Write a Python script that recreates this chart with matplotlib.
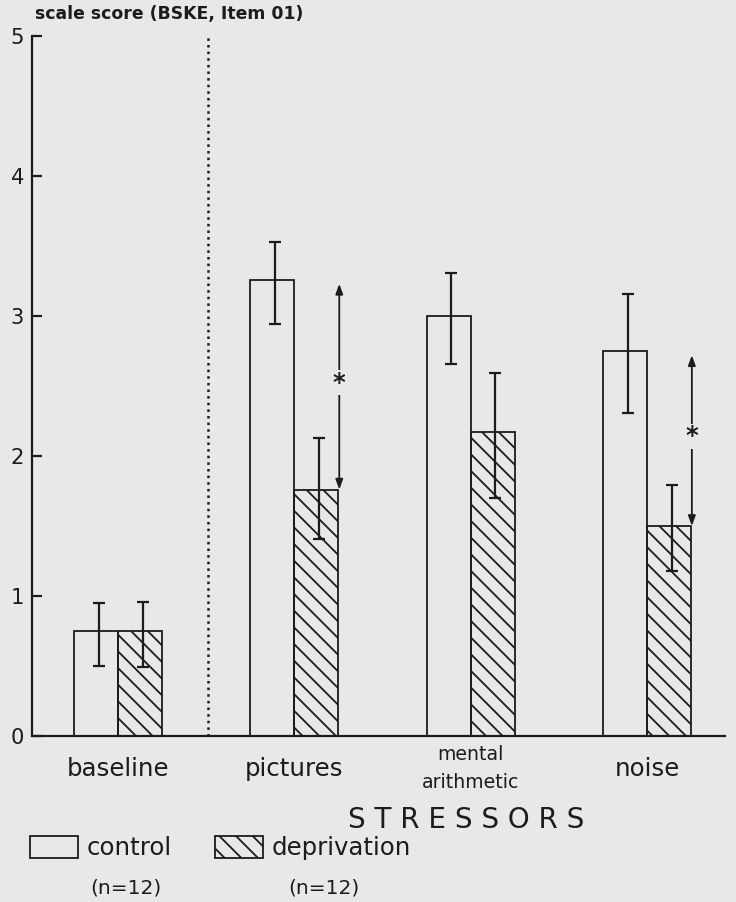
import matplotlib
matplotlib.use("Agg")
import matplotlib.pyplot as plt
from matplotlib.patches import Patch
import numpy as np

# values
stressors = ["baseline", "pictures", "mental\narithmetic", "noise"]
control_mean = [0.75, 3.26, 3.00, 2.75]
control_low = [0.50, 2.94, 2.66, 2.31]
control_high = [0.95, 3.53, 3.31, 3.16]
depriv_mean = [0.75, 1.76, 2.17, 1.50]
depriv_low = [0.49, 1.41, 1.70, 1.18]
depriv_high = [0.96, 2.13, 2.59, 1.79]
significant = ["pictures", "noise"]
y_ticks = [0, 1, 2, 3, 4, 5]

BG = "#e8e8e6"
INK = "#1c1c1c"


def main():
    plt.rcParams["font.family"] = ["DejaVu Sans"]
    plt.rcParams["hatch.linewidth"] = 1.3
    plt.rcParams["hatch.color"] = INK

    dpi = 100
    fig = plt.figure(figsize=(736 / dpi, 902 / dpi), dpi=dpi, facecolor=BG)
    ax = fig.add_axes([32 / 736, 1 - 736 / 902, 693 / 736, 700 / 902])
    ax.set_facecolor(BG)

    x = np.arange(len(stressors))
    w = 0.25
    shift = 0.015

    ax.bar(x - w / 2, control_mean, w, facecolor="none", edgecolor=INK,
           linewidth=1.3)
    ax.bar(x + w / 2, depriv_mean, w, facecolor="none", edgecolor=INK,
           linewidth=1.3, hatch="\\\\")

    c_err = [np.subtract(control_mean, control_low),
             np.subtract(control_high, control_mean)]
    d_err = [np.subtract(depriv_mean, depriv_low),
             np.subtract(depriv_high, depriv_mean)]
    ax.errorbar(x - w / 2 + shift, control_mean, yerr=c_err, fmt="none",
                ecolor=INK, elinewidth=1.6, capsize=4.4, capthick=1.6)
    ax.errorbar(x + w / 2 + shift, depriv_mean, yerr=d_err, fmt="none",
                ecolor=INK, elinewidth=1.6, capsize=4.4, capthick=1.6)

    # significance arrows between control and deprivation means
    for name in significant:
        i = stressors.index(name)
        xa = x[i] + w + 0.005
        top = control_mean[i] - 0.03
        bot = depriv_mean[i]
        ax.annotate("", xy=(xa, top), xytext=(xa, bot),
                    arrowprops=dict(arrowstyle="<|-|>,head_length=0.6,head_width=0.22",
                                    color=INK, lw=1.3, shrinkA=0, shrinkB=0))
        ax.text(xa, (top + bot) / 2 + 0.03, "*", ha="center", va="center",
                fontsize=17.5, fontweight="bold", color=INK,
                bbox=dict(facecolor=BG, edgecolor="none", pad=0.3))

    # divider between baseline and the stressors
    ax.axvline(0.51, color=INK, linestyle=":", linewidth=1.8)

    ax.set_xlim(-0.488, 3.443)
    ax.set_ylim(0, 5)
    ax.set_yticks(y_ticks)
    ax.set_xticks(x)
    ax.set_xticklabels(stressors, fontsize=17.6, color=INK)
    for lbl in ax.get_xticklabels():
        lbl.set_va("center")
        if "\n" in lbl.get_text():
            lbl.set_fontsize(13.6)
            lbl.set_linespacing(1.6)
    ax.tick_params(axis="x", length=0, pad=23.5)
    ax.tick_params(axis="y", direction="in", length=7.2, width=1.6,
                   labelsize=15.2, pad=5.6, colors=INK)

    for side in ["top", "right"]:
        ax.spines[side].set_visible(False)
    for side in ["left", "bottom"]:
        ax.spines[side].set_linewidth(1.6)
        ax.spines[side].set_color(INK)

    fig.text(35 / 736, 1 - 14 / 902, "scale score (BSKE, Item 01)",
             fontsize=12.4, fontweight="bold", color=INK, va="center")
    fig.text(466 / 736, 1 - 820 / 902, "S T R E S S O R S", fontsize=20,
             color=INK, ha="center", va="center")

    handles = [Patch(facecolor="none", edgecolor=INK, linewidth=1.3),
               Patch(facecolor="none", edgecolor=INK, linewidth=1.3,
                     hatch="\\\\")]
    fig.legend(handles, ["control", "deprivation"], loc="upper left",
               bbox_to_anchor=(30 / 736, 1 - 836 / 902), ncol=2,
               frameon=False, fontsize=17.6, handlelength=1.95,
               handleheight=1.0, handletextpad=0.35, columnspacing=1.8,
               borderpad=0, borderaxespad=0, labelcolor=INK)
    fig.text(90 / 736, 1 - 888 / 902, "(n=12)", fontsize=14.5, color=INK,
             va="center")
    fig.text(288 / 736, 1 - 888 / 902, "(n=12)", fontsize=14.5, color=INK,
             va="center")

    fig.savefig("out.png", dpi=dpi, facecolor=BG)


if __name__ == "__main__":
    main()
